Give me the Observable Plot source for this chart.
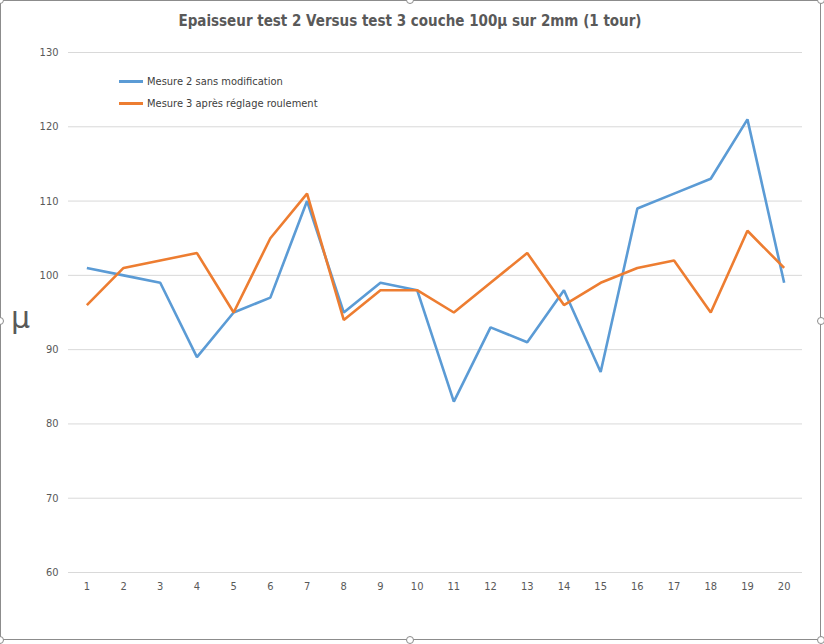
<!DOCTYPE html>
<html>
<head>
<meta charset="utf-8">
<script src="https://cdn.jsdelivr.net/npm/d3@7"></script>
<script src="https://cdn.jsdelivr.net/npm/@observablehq/plot@0.6"></script>
<style>
  body { margin: 0; background: #fff; }
  #wrap { position: relative; width: 824px; height: 644px; overflow: hidden; font-family: "Liberation Sans Narrow", "DejaVu Sans Condensed", sans-serif; color: #595959; }
  #frame { position: absolute; left: 0; top: 0; width: 821px; height: 640px; border: 1px solid #8c8c8c; box-sizing: border-box; pointer-events: none; }
  #title { position: absolute; left: 0; width: 820px; top: 12px; text-align: center; font-size: 15px; font-weight: bold; color: #595959; }
  #ylab { position: absolute; left: 11px; top: 300px; font-size: 30px; font-family: "DejaVu Sans", sans-serif; color: #595959; }
  .leg { position: absolute; left: 119px; font-size: 11px; color: #404040; display: flex; align-items: center; }
  .leg span.sw { display: inline-block; width: 24px; height: 3px; margin-right: 4px; }
  .h { position: absolute; width: 8px; height: 8px; border: 1px solid #8c8c8c; border-radius: 50%; background: #fff; box-sizing: border-box; }
</style>
</head>
<body>
<div id="wrap">
  <div id="chart"></div>
  <div id="frame"></div>
  <div id="title"></div>
  <div id="ylab"></div>
  <div id="legend"></div>
</div>
<script>
const titleText = "Epaisseur test 2 Versus test 3 couche 100µ sur 2mm (1 tour)";
const yLabel = "µ";
const points = [1,2,3,4,5,6,7,8,9,10,11,12,13,14,15,16,17,18,19,20];
const series2Name = "Mesure 2 sans modification";
const series3Name = "Mesure 3 après réglage roulement";
const series2 = [101,100,99,89,95,97,110,95,99,98,83,93,91,98,87,109,111,113,121,99];
const series3 = [96,101,102,103,95,105,111,94,98,98,95,99,103,96,99,101,102,95,106,101];
const yTicks = [60,70,80,90,100,110,120,130];
const colors = ["#5B9BD5", "#ED7D31"];

const data = [];
points.forEach((p, i) => {
  data.push({x: p, y: series2[i], s: series2Name});
  data.push({x: p, y: series3[i], s: series3Name});
});

const chart = Plot.plot({
  width: 824,
  height: 644,
  marginLeft: 68,
  marginRight: 22,
  marginTop: 52,
  marginBottom: 72,
  style: { fontFamily: '"Liberation Sans Narrow", "DejaVu Sans Condensed", sans-serif', fontSize: "11px", color: "#595959", background: "transparent" },
  x: { type: "point", domain: points, padding: 0.5, round: false, label: null },
  y: { domain: [60, 130], ticks: yTicks, label: null },
  color: { domain: [series2Name, series3Name], range: colors },
  marks: [
    Plot.ruleY(yTicks, { stroke: "#D9D9D9", strokeWidth: 1 }),
    Plot.axisY({ ticks: yTicks, tickSize: 0, tickPadding: 10, label: null, fill: "#595959" }),
    Plot.axisX({ tickSize: 0, tickPadding: 10, label: null, fill: "#595959" }),
    Plot.line(data, { x: "x", y: "y", z: "s", stroke: "s", strokeWidth: 2.6, strokeLinejoin: "miter", strokeLinecap: "butt" })
  ]
});
document.getElementById("chart").appendChild(chart);

document.getElementById("title").textContent = titleText;
document.getElementById("ylab").textContent = yLabel;
const leg = document.getElementById("legend");
[[series2Name, colors[0], 75], [series3Name, colors[1], 97]].forEach(([n, c, t]) => {
  const d = document.createElement("div");
  d.className = "leg";
  d.style.top = t + "px";
  d.innerHTML = `<span class="sw" style="background:${c}"></span><span></span>`;
  d.lastChild.textContent = n;
  leg.appendChild(d);
});
// selection handles of the chart frame
const wrap = document.getElementById("wrap");
[[-4,-4],[406,-4],[817,-4],[-4,317],[817,317],[-4,636],[406,636],[817,636]].forEach(([l,t]) => {
  const h = document.createElement("div");
  h.className = "h"; h.style.left = l + "px"; h.style.top = t + "px";
  wrap.appendChild(h);
});
</script>
</body>
</html>
